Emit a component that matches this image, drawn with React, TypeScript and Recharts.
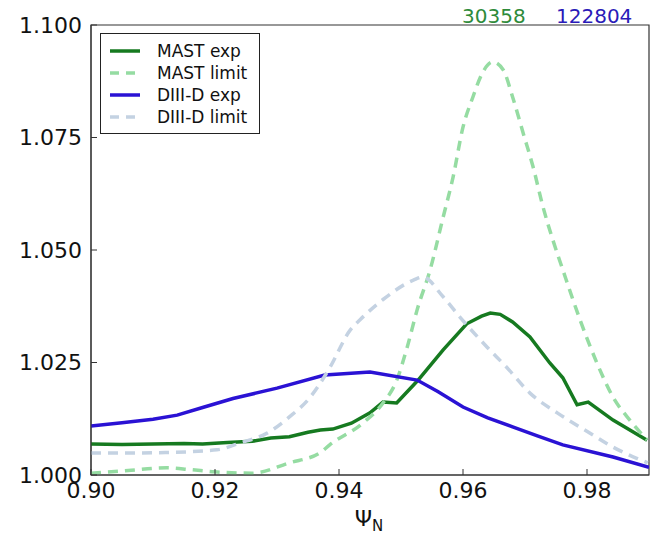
import { LineChart, Line, XAxis, YAxis, ReferenceArea } from "recharts";

// Axis ticks (psi_N on x, ratio on y)
const X_TICKS = [0.9, 0.92, 0.94, 0.96, 0.98];
const Y_TICKS = [1.0, 1.025, 1.05, 1.075, 1.1];

// MAST 30358, experimental profile
const mastExpPsi = [
  0.9, 0.905, 0.91, 0.915, 0.918, 0.922, 0.926, 0.929, 0.932, 0.935, 0.937,
  0.939, 0.942, 0.945, 0.9471, 0.9493, 0.9527, 0.9568, 0.9606, 0.963, 0.9644,
  0.966, 0.968, 0.9708, 0.974, 0.9761, 0.9784, 0.9802, 0.9842, 0.9897,
];
const mastExpVal = [
  1.0069, 1.0068, 1.0069, 1.007, 1.0069, 1.0072, 1.0075, 1.0082, 1.0085,
  1.0095, 1.01, 1.0102, 1.0115, 1.0138, 1.0162, 1.016, 1.021, 1.0278, 1.0336,
  1.0353, 1.036, 1.0357, 1.034, 1.0307, 1.0249, 1.0216, 1.0156, 1.0162, 1.0122,
  1.0077,
];

// MAST 30358, stability limit
const mastLimPsi = [
  0.9, 0.906, 0.9122, 0.916, 0.92, 0.926, 0.932, 0.937, 0.9385, 0.9439, 0.9471,
  0.9493, 0.951, 0.9526, 0.9547, 0.9568, 0.9584, 0.96, 0.9616, 0.963, 0.9648,
  0.9665, 0.968, 0.9697, 0.9713, 0.9729, 0.9745, 0.9761, 0.9789, 0.9816,
  0.9842, 0.9869, 0.9897,
];
const mastLimVal = [
  1.0004, 1.001, 1.0016, 1.0012, 1.0007, 1.0004, 1.0027, 1.005, 1.0067, 1.0116,
  1.016, 1.021, 1.0284, 1.0367, 1.0456, 1.0573, 1.0662, 1.0773, 1.084, 1.089,
  1.0918, 1.09, 1.084, 1.076, 1.0685, 1.0596, 1.0522, 1.0456, 1.0344, 1.0249,
  1.0173, 1.0122, 1.0078,
];

// DIII-D 122804, experimental profile
const d3dExpPsi = [
  0.9, 0.905, 0.91, 0.9139, 0.918, 0.9229, 0.93, 0.9377, 0.945, 0.9526, 0.956,
  0.96, 0.964, 0.968, 0.972, 0.9761, 0.9842, 0.99,
];
const d3dExpVal = [
  1.0109, 1.0116, 1.0124, 1.0133, 1.015, 1.017, 1.0193, 1.0222, 1.0229, 1.0211,
  1.0185, 1.0151, 1.0127, 1.0107, 1.0087, 1.0067, 1.004, 1.0017,
];

// DIII-D 122804, stability limit
const d3dLimPsi = [
  0.9, 0.906, 0.912, 0.9203, 0.924, 0.9284, 0.932, 0.9353, 0.9385, 0.9418,
  0.9434, 0.9471, 0.952, 0.9535, 0.9568, 0.9595, 0.9639, 0.967, 0.9708, 0.9752,
  0.9805, 0.9842, 0.9898,
];
const d3dLimVal = [
  1.0049, 1.0049, 1.005, 1.0056, 1.0071, 1.0093, 1.0129, 1.0172, 1.0238,
  1.0322, 1.0345, 1.039, 1.0433, 1.044, 1.0396, 1.0351, 1.0284, 1.024, 1.0182,
  1.0138, 1.0093, 1.0062, 1.0027,
];

const rows = (xs: number[], ys: number[]) =>
  xs.map((psi, i) => ({ psi, v: ys[i] }));

const SERIES = [
  {
    key: "mastExp",
    label: "MAST exp",
    data: rows(mastExpPsi, mastExpVal),
    color: "#167a20",
    dash: undefined as string | undefined,
    curve: "linear" as const,
  },
  {
    key: "mastLim",
    label: "MAST limit",
    data: rows(mastLimPsi, mastLimVal),
    color: "#95dca2",
    dash: "10 7",
    curve: "monotone" as const,
  },
  {
    key: "d3dExp",
    label: "DIII-D exp",
    data: rows(d3dExpPsi, d3dExpVal),
    color: "#2a12d4",
    dash: undefined,
    curve: "linear" as const,
  },
  {
    key: "d3dLim",
    label: "DIII-D limit",
    data: rows(d3dLimPsi, d3dLimVal),
    color: "#c4d2e2",
    dash: "10 7",
    curve: "monotone" as const,
  },
];

const FONT = "'DejaVu Sans', sans-serif";
const AXIS = "#333";

function PsiLabel(props: any) {
  const vb = props.viewBox || {};
  const cx = vb.x + vb.width / 2 - 1;
  return (
    <text x={cx} y={526} textAnchor="middle" fontFamily={FONT} fill="#111">
      <tspan fontSize={22}>Ψ</tspan>
      <tspan fontSize={15} dy={5}>
        N
      </tspan>
    </text>
  );
}

export default function App() {
  return (
    <div
      style={{
        position: "absolute",
        left: 0,
        top: 0,
        width: 659,
        height: 540,
        background: "#fff",
        fontFamily: FONT,
      }}
    >
      <LineChart
        width={659}
        height={540}
        margin={{ top: 25, right: 10, left: 0, bottom: 0 }}
      >
        <XAxis
          xAxisId="b"
          dataKey="psi"
          type="number"
          domain={[0.9, 0.99]}
          ticks={X_TICKS}
          allowDataOverflow
          height={65}
          tickSize={-6}
          tickMargin={13}
          tickFormatter={(v: number) => v.toFixed(2)}
          tick={{ fontSize: 22, fill: "#111", fontFamily: FONT }}
          stroke={AXIS}
          label={<PsiLabel />}
        />
        <XAxis
          xAxisId="t"
          orientation="top"
          dataKey="psi"
          type="number"
          domain={[0.9, 0.99]}
          ticks={X_TICKS}
          allowDataOverflow
          height={0}
          tickSize={-6}
          tickFormatter={() => ""}
          stroke={AXIS}
        />
        <YAxis
          yAxisId="l"
          type="number"
          domain={[1.0, 1.1]}
          ticks={Y_TICKS}
          allowDataOverflow
          width={91}
          tickSize={-6}
          tickMargin={15}
          tickFormatter={(v: number) => v.toFixed(3)}
          tick={{ fontSize: 22, fill: "#111", fontFamily: FONT }}
          stroke={AXIS}
        />
        <YAxis
          yAxisId="r"
          orientation="right"
          type="number"
          domain={[1.0, 1.1]}
          ticks={Y_TICKS}
          allowDataOverflow
          width={0}
          tickSize={-6}
          tickFormatter={() => ""}
          stroke={AXIS}
        />
        {SERIES.map((s) => (
          <Line
            key={s.key}
            xAxisId="b"
            yAxisId="l"
            data={s.data}
            dataKey="v"
            name={s.label}
            type={s.curve}
            stroke={s.color}
            strokeWidth={3.5}
            strokeDasharray={s.dash}
            dot={false}
            activeDot={false}
            isAnimationActive={false}
          />
        ))}
        <ReferenceArea
          xAxisId="b"
          yAxisId="l"
          x1={0.9}
          x2={0.99}
          y1={1.0}
          y2={1.1}
          fill="none"
          stroke={AXIS}
          strokeWidth={1.2}
          ifOverflow="extendDomain"
        />
      </LineChart>

      {/* shot numbers above the frame */}
      <div
        style={{
          position: "absolute",
          left: 462,
          top: 5,
          fontSize: 20,
          color: "#2e8b3a",
          lineHeight: "22px",
        }}
      >
        30358
      </div>
      <div
        style={{
          position: "absolute",
          left: 556,
          top: 5,
          fontSize: 20,
          color: "#2a1ab8",
          lineHeight: "22px",
        }}
      >
        122804
      </div>

      {/* legend box, matplotlib style */}
      <div
        style={{
          position: "absolute",
          left: 100,
          top: 33,
          width: 160,
          height: 101,
          border: "1px solid #222",
          background: "#fff",
          padding: "6px 0 0 9px",
          boxSizing: "border-box",
        }}
      >
        {SERIES.map((s) => (
          <div
            key={s.key}
            style={{ display: "flex", alignItems: "center", height: 22 }}
          >
            <svg width={30} height={8} style={{ marginRight: 17 }}>
              <line
                x1={0}
                y1={4}
                x2={30}
                y2={4}
                stroke={s.color}
                strokeWidth={3.5}
                strokeDasharray={s.dash ? "9 7" : undefined}
              />
            </svg>
            <span style={{ fontSize: 17, color: "#111" }}>{s.label}</span>
          </div>
        ))}
      </div>
    </div>
  );
}
